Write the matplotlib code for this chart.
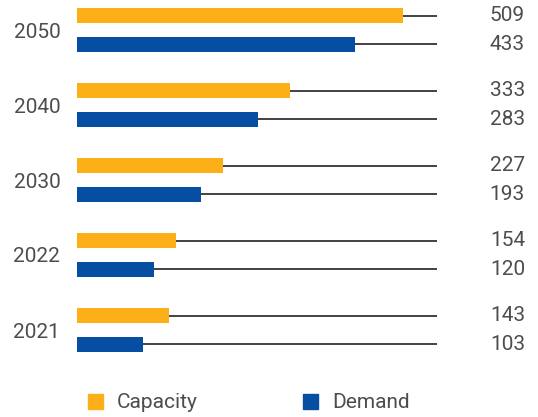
import matplotlib
matplotlib.use("Agg")
import matplotlib.pyplot as plt
from matplotlib.patches import Patch
import matplotlib.transforms as mtransforms
import numpy as np

plt.rcParams['font.family'] = ['Roboto', 'DejaVu Sans']

years = ["2050", "2040", "2030", "2022", "2021"]
capacity = [509, 333, 227, 154, 143]
demand = [433, 283, 193, 120, 103]

cap_color = "#FDAF17"
dem_color = "#054EA2"
text_color = "#4d4d4d"
FS = 15

W, H = 538, 417
fig = plt.figure(figsize=(W / 100, H / 100), dpi=100)
left_px, right_px = 77, 437
top_px, bottom_px = 0, 367.5
ax = fig.add_axes([left_px / W, (H - bottom_px) / H, (right_px - left_px) / W, (bottom_px - top_px) / H])

idx = np.arange(len(years))
off = 0.187
bh = 0.2
xmax = (right_px - left_px) / 0.641

ax.hlines(idx - off, 0, xmax, color="#222222", lw=1.2, zorder=1)
ax.hlines(idx + off, 0, xmax, color="#222222", lw=1.2, zorder=1)
ax.barh(idx - off, capacity, height=bh, color=cap_color, zorder=2)
ax.barh(idx + off, demand, height=bh, color=dem_color, zorder=2)

ax.set_xlim(0, xmax)
ax.set_ylim(4.5, -0.4)
ax.set_yticks(idx)
ax.set_yticklabels(years, fontsize=FS, color=text_color)
ax.tick_params(axis='y', length=0, pad=12)
ax.set_xticks([])
for s in ax.spines.values():
    s.set_visible(False)

trans = mtransforms.blended_transform_factory(fig.transFigure, ax.transData)
for i in idx:
    ax.text(525 / W, i - off, str(capacity[i]), transform=trans, ha='right', va='center',
            fontsize=FS, color=text_color)
    ax.text(525 / W, i + off, str(demand[i]), transform=trans, ha='right', va='center',
            fontsize=FS, color=text_color)

handles = [Patch(color=cap_color, label="Capacity"), Patch(color=dem_color, label="Demand")]
fig.legend(handles=handles, loc='center left', bbox_to_anchor=(88 / W, (H - 403) / H), ncol=2,
           frameon=False, fontsize=FS, handlelength=0.72, handleheight=0.72, handletextpad=0.67,
           columnspacing=5.05, borderpad=0, borderaxespad=0, labelcolor=text_color)

fig.savefig("out.png", dpi=100)
